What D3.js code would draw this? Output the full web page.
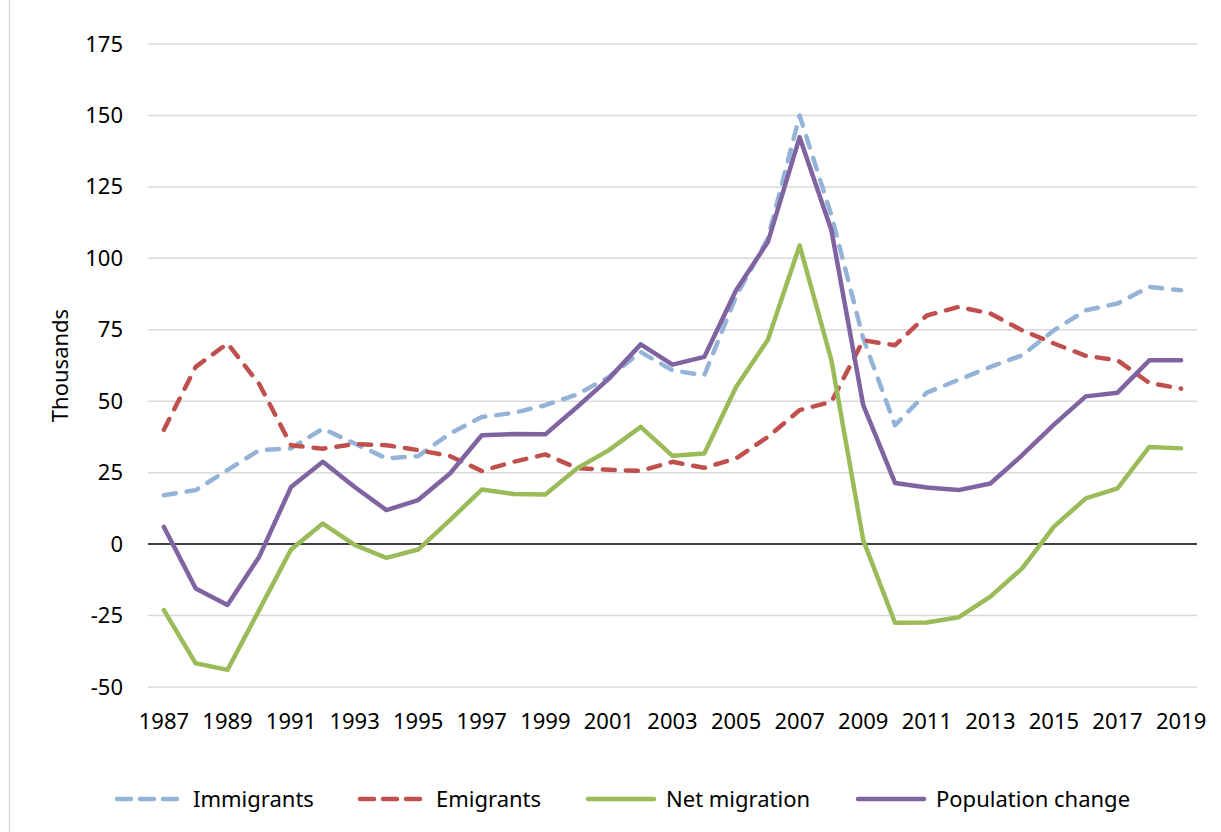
<!DOCTYPE html>
<html>
<head>
<meta charset="utf-8">
<script src="https://cdn.jsdelivr.net/npm/d3@7"></script>
<style>
  html, body { margin: 0; padding: 0; background: #fff; }
  svg { display: block; }
  text { font-family: "Noto Sans", "Open Sans", sans-serif; fill: #000; }
</style>
</head>
<body>
<svg id="chart" width="1221" height="832"></svg>
<script>
// ---- Data ----
const years = d3.range(1987, 2020);
const immigrants = [17.1, 18.9, 25.9, 32.9, 33.5, 40.4, 35.2, 30.0, 30.8, 38.7, 44.5, 45.9, 48.6, 52.4, 58.5, 67.2, 60.8, 59.1, 86.7, 107.0, 150.0, 115.0, 72.0, 41.6, 53.0, 57.5, 62.0, 66.1, 74.8, 81.8, 84.2, 90.0, 88.8];
const emigrants = [40.0, 62.0, 70.2, 56.0, 34.6, 33.4, 35.0, 34.6, 32.9, 30.8, 25.6, 28.8, 31.4, 26.6, 26.0, 25.6, 28.8, 26.7, 30.0, 37.5, 46.9, 49.8, 71.3, 69.6, 80.0, 83.0, 80.7, 74.8, 70.2, 65.9, 64.3, 56.4, 54.4];
const netMigration = [-23.1, -41.7, -44.0, -23.0, -1.9, 7.2, -0.3, -4.8, -1.9, 8.4, 19.1, 17.5, 17.4, 26.5, 32.9, 41.0, 30.9, 31.7, 55.0, 71.5, 104.5, 64.3, 1.4, -27.5, -27.4, -25.6, -18.4, -8.5, 6.1, 16.0, 19.5, 34.0, 33.5];
const populationChange = [6.0, -15.5, -21.3, -4.4, 20.0, 28.8, 20.0, 11.9, 15.4, 24.7, 38.1, 38.5, 38.4, 48.0, 57.9, 69.9, 62.8, 65.5, 88.8, 105.7, 142.4, 109.8, 48.6, 21.4, 19.8, 18.9, 21.2, 31.1, 41.8, 51.7, 53.0, 64.3, 64.3];
const yTicks = [-50, -25, 0, 25, 50, 75, 100, 125, 150, 175];
const xTickYears = years.filter(y => (y - 1987) % 2 === 0);
const seriesNames = ["Immigrants", "Emigrants", "Net migration", "Population change"];
const yAxisTitle = "Thousands";

// ---- Layout / style ----
const plot = { left: 148, right: 1197, top: 44, bottom: 687 };
const colors = ["#95B3D7", "#C0504D", "#9BBB59", "#8064A2"];
const dashed = [true, true, false, false];
const fontSize = 22;

const series = [immigrants, emigrants, netMigration, populationChange].map((vals, i) => ({
  name: seriesNames[i], color: colors[i], dashed: dashed[i],
  values: years.map((yr, j) => ({ year: yr, value: vals[j] }))
}));

const svg = d3.select("#chart");
svg.append("rect").attr("width", 1221).attr("height", 832).attr("fill", "#fff");
// chart frame (left edge visible)
svg.append("line").attr("x1", 9.5).attr("x2", 9.5).attr("y1", 0).attr("y2", 832)
  .attr("stroke", "#D9D9D9").attr("stroke-width", 1.5);

const x = d3.scaleBand().domain(years).range([plot.left, plot.right]).padding(0);
const y = d3.scaleLinear().domain([-50, 175]).range([plot.bottom, plot.top]);
const cx = d => x(d) + x.bandwidth() / 2;

// gridlines
svg.append("g").selectAll("line").data(yTicks.filter(t => t !== 0)).join("line")
  .attr("x1", plot.left).attr("x2", plot.right)
  .attr("y1", d => y(d)).attr("y2", d => y(d))
  .attr("stroke", "#D9D9D9").attr("stroke-width", 1.5);

// y axis labels
const yAxis = svg.append("g").attr("transform", `translate(${plot.left},0)`)
  .call(d3.axisLeft(y).tickValues(yTicks).tickSize(0).tickPadding(25).tickFormat(d => String(d)));
yAxis.select(".domain").remove();
yAxis.selectAll("text").attr("font-size", fontSize).attr("font-family", "Noto Sans").attr("fill", "#000");

// x axis labels
const xAxis = svg.append("g").attr("transform", `translate(0,${plot.bottom})`)
  .call(d3.axisBottom(x).tickValues(xTickYears).tickSize(0).tickPadding(26));
xAxis.select(".domain").remove();
xAxis.selectAll("text").attr("font-size", fontSize).attr("font-family", "Noto Sans").attr("fill", "#000");

// zero line
svg.append("line").attr("x1", plot.left).attr("x2", plot.right)
  .attr("y1", y(0)).attr("y2", y(0)).attr("stroke", "#000").attr("stroke-width", 1.5);

// y axis title
svg.append("text")
  .attr("transform", `translate(68,${(plot.top + plot.bottom) / 2}) rotate(-90)`)
  .attr("text-anchor", "middle").attr("font-size", fontSize)
  .text(yAxisTitle);

// lines
const line = d3.line().x(d => cx(d.year)).y(d => y(d.value));
svg.append("g").selectAll("path").data(series).join("path")
  .attr("d", d => line(d.values))
  .attr("fill", "none")
  .attr("stroke", d => d.color)
  .attr("stroke-width", 4.5)
  .attr("stroke-linejoin", "round")
  .attr("stroke-linecap", "round")
  .attr("stroke-dasharray", d => d.dashed ? "12,11" : null);

// legend
const legendY = 799;
const legendStarts = [115, 358, 588, 858];
const legendSymbolW = 66;
const lg = svg.append("g").selectAll("g").data(series).join("g")
  .attr("transform", (d, i) => `translate(${legendStarts[i]},${legendY})`);
lg.append("line")
  .attr("x1", d => d.dashed ? 2 : 0).attr("x2", legendSymbolW).attr("y1", 0).attr("y2", 0)
  .attr("stroke", d => d.color).attr("stroke-width", 4.5)
  .attr("stroke-linecap", "round")
  .attr("stroke-dasharray", d => d.dashed ? "14,9" : null);
lg.append("text")
  .attr("x", 78)
  .attr("dy", "0.35em").attr("font-size", fontSize)
  .text(d => d.name);
</script>
</body>
</html>
